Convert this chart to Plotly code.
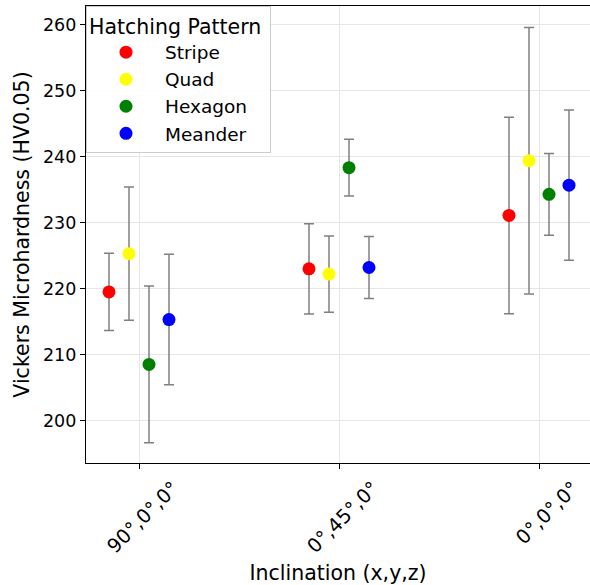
import plotly.graph_objects as go

categories = ["90°,0°,0°", "0°,45°,0°", "0°,0°,0°"]
series_names = ["Stripe", "Quad", "Hexagon", "Meander"]
stripe_mean = [219.5, 223.0, 231.1]
stripe_err = [5.85, 6.85, 14.9]
quad_mean = [225.3, 222.2, 239.4]
quad_err = [10.1, 5.8, 20.2]
hexagon_mean = [208.5, 238.35, 234.3]
hexagon_err = [11.9, 4.3, 6.2]
meander_mean = [215.3, 223.2, 235.7]
meander_err = [9.9, 4.7, 11.4]
y_ticks = [200, 210, 220, 230, 240, 250, 260]

means = [stripe_mean, quad_mean, hexagon_mean, meander_mean]
errs = [stripe_err, quad_err, hexagon_err, meander_err]
colors = ["red", "yellow", "green", "blue"]
offsets = [-0.15, -0.05, 0.05, 0.15]

FONT = "DejaVu Sans"
fig = go.Figure()
for name, m, e, c, off in zip(series_names, means, errs, colors, offsets):
    fig.add_trace(go.Scatter(
        x=[i + off for i in range(len(categories))],
        y=m,
        mode="markers",
        name=name,
        legendgroup=name,
        marker=dict(color=c, size=13),
        error_y=dict(type="data", array=e, visible=True, color="gray",
                     thickness=1.5, width=5),
    ))

fig.update_layout(
    width=590, height=585,
    margin=dict(l=86, r=0, t=6, b=122),
    plot_bgcolor="white", paper_bgcolor="white",
    font=dict(family=FONT, color="black", size=17),
    showlegend=True,
    legend=dict(
        title=dict(text="Hatching Pattern ", font=dict(size=20.5, family=FONT)),
        font=dict(size=18.5, family=FONT),
        x=0.0, y=1.0, xanchor="left", yanchor="top",
        bgcolor="rgba(255,255,255,0.85)", bordercolor="#cccccc", borderwidth=1,
        itemwidth=68, tracegroupgap=0,
    ),
    xaxis=dict(
        range=[-0.265, 2.255],
        tickvals=list(range(len(categories))), ticktext=categories,
        tickangle=-45, tickfont=dict(size=19.5),
        ticklabelshift=34, ticklabelstandoff=0,
        showline=True, linecolor="black", linewidth=1.2, mirror=True,
        ticks="outside", ticklen=5, tickcolor="black",
        showgrid=True, gridcolor="#e6e6e6", gridwidth=1, zeroline=False,
        title=dict(text="Inclination (x,y,z)", font=dict(size=20.5), standoff=12),
    ),
    yaxis=dict(
        range=[193.54, 262.88],
        tickvals=y_ticks,
        tickfont=dict(size=17.5),
        showline=True, linecolor="black", linewidth=1.2,
        ticks="outside", ticklen=5, tickcolor="black",
        showgrid=True, gridcolor="#e6e6e6", gridwidth=1, zeroline=False,
        title=dict(text="Vickers Microhardness (HV0.05)", font=dict(size=20.5), standoff=7),
    ),
)

fig.write_html("out.html")
